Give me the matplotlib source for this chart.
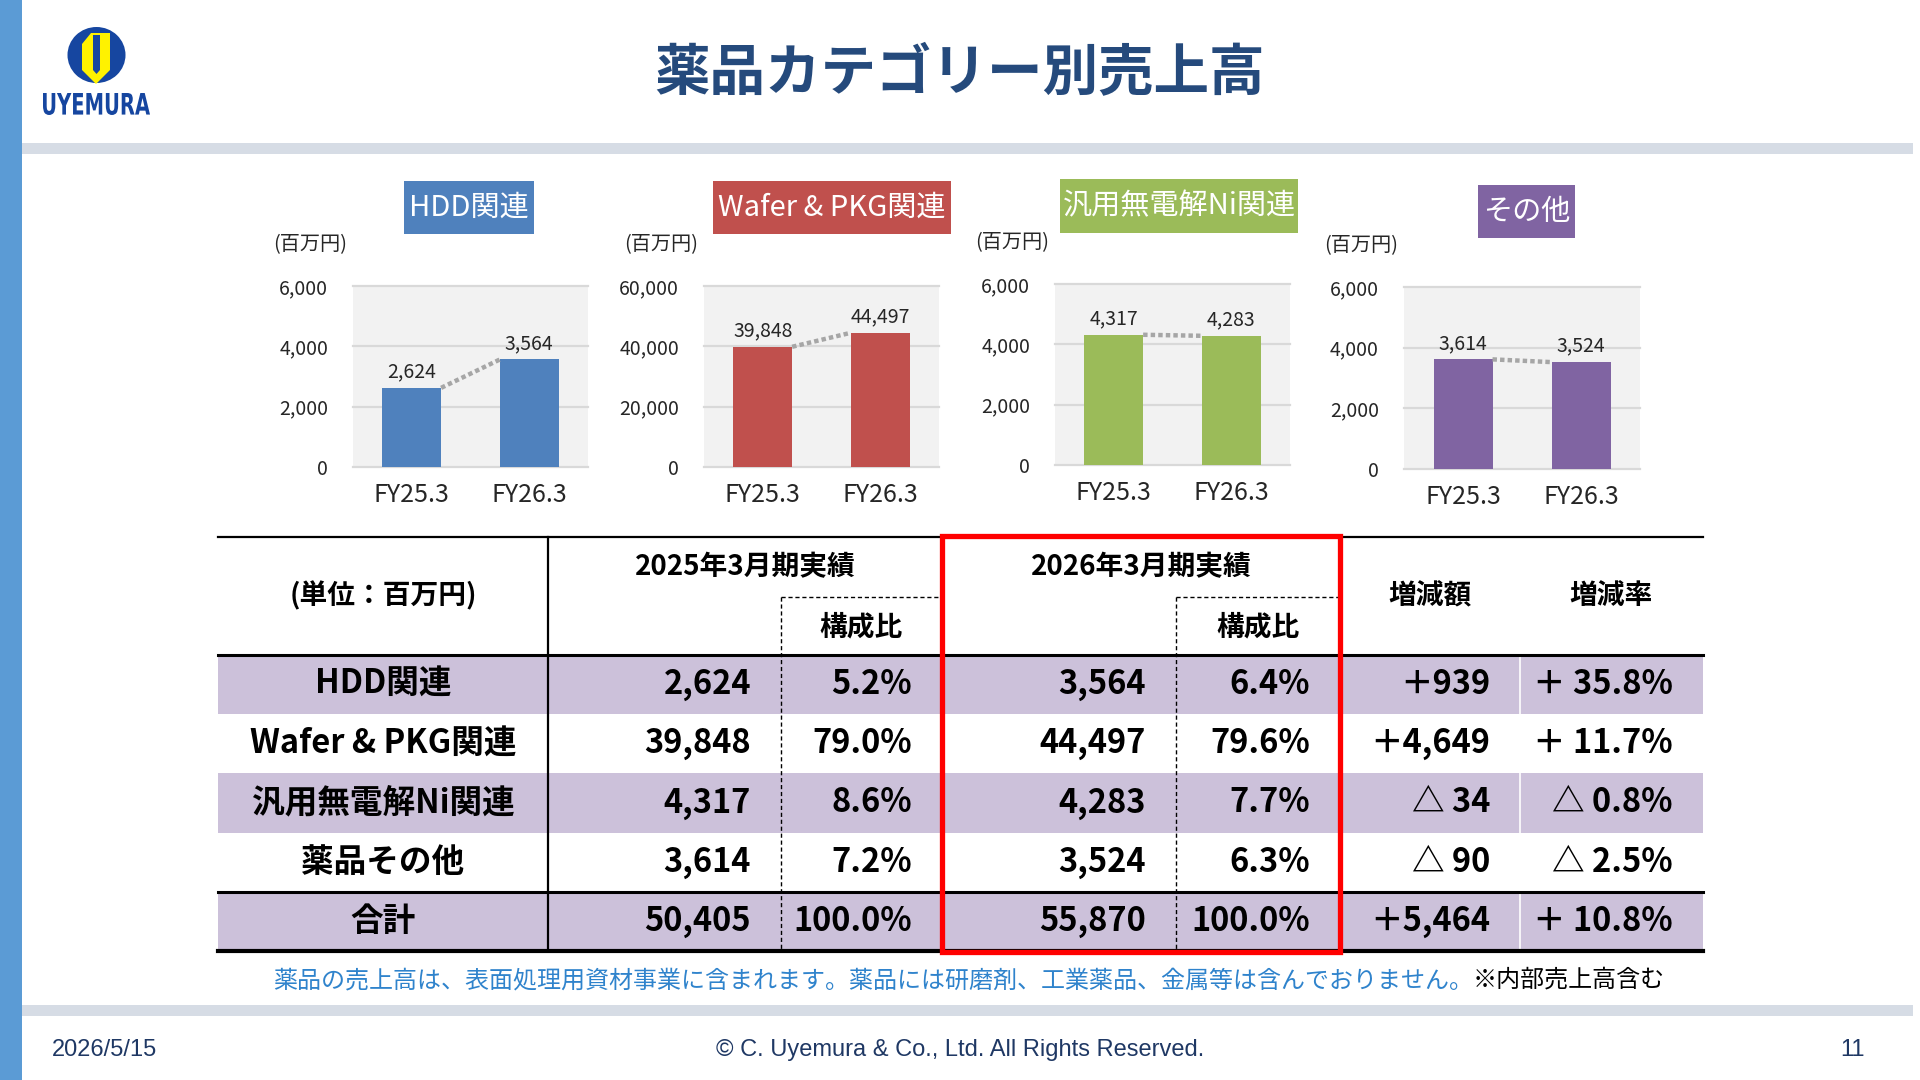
import matplotlib
matplotlib.use('Agg')
import matplotlib.pyplot as plt
from matplotlib.patches import Rectangle, Ellipse, Polygon, PathPatch
from matplotlib.textpath import TextPath
from matplotlib.font_manager import FontProperties
from matplotlib.transforms import Affine2D

plt.rcParams['font.family'] = ['Noto Sans CJK JP', 'DejaVu Sans']

# ---- data ----
categories = ['HDD関連', 'Wafer & PKG関連', '汎用無電解Ni関連', 'その他']
fy_labels = ['FY25.3', 'FY26.3']
sales_fy25 = [2624, 39848, 4317, 3614]
sales_fy26 = [3564, 44497, 4283, 3524]
y_max = [6000, 60000, 6000, 6000]
y_step = [2000, 20000, 2000, 2000]
cat_colors = ['#4F81BD', '#C0504D', '#9BBB59', '#8064A2']

row_labels = ['HDD関連', 'Wafer & PKG関連', '汎用無電解Ni関連', '薬品その他', '合計']
tbl_fy25 = [2624, 39848, 4317, 3614, 50405]
tbl_share25 = [5.2, 79.0, 8.6, 7.2, 100.0]
tbl_fy26 = [3564, 44497, 4283, 3524, 55870]
tbl_share26 = [6.4, 79.6, 7.7, 6.3, 100.0]
tbl_diff = [939, 4649, -34, -90, 5464]
tbl_rate = [35.8, 11.7, -0.8, -2.5, 10.8]

title = '薬品カテゴリー別売上高'
note_blue = '薬品の売上高は、表面処理用資材事業に含まれます。薬品には研磨剤、工業薬品、金属等は含んでおりません。'
note_black = '※内部売上高含む'

W, H = 1920, 1080
fig = plt.figure(figsize=(19.2, 10.8), dpi=100)
fig.patch.set_facecolor('white')

bg = fig.add_axes([0, 0, 1, 1])
bg.set_xlim(0, W)
bg.set_ylim(H, 0)
bg.axis('off')

# frame of the slide
bg.add_patch(Rectangle((0, 0), 22, H, color='#5B9BD5', lw=0))
bg.add_patch(Rectangle((22, 143), 1891, 11, color='#D6DCE5', lw=0))
bg.add_patch(Rectangle((22, 1005), 1891, 11, color='#D6DCE5', lw=0))

# logo
navy = '#1646A0'
bg.add_patch(Ellipse((96.5, 55), 58, 56, color=navy, lw=0))
bg.add_patch(Polygon([(82, 44), (91, 33), (110, 33), (110, 70), (96, 84), (82, 70)],
                     closed=True, color='#FFF200', lw=0))
bg.add_patch(Polygon([(93, 35), (100, 35), (100, 70), (96.5, 74), (93, 70)],
                     closed=True, color=navy, lw=0))
tp = TextPath((0, 0), 'UYEMURA', size=10, prop=FontProperties(family='DejaVu Sans', weight='bold'))
bb = tp.get_extents()
sx = 107 / bb.width
sy = 22 / bb.height
tr = Affine2D().translate(-bb.x0, -bb.y0).scale(sx, -sy).translate(43, 115)
bg.add_patch(PathPatch(tr.transform_path(tp), color=navy, lw=0))

# title
bg.text(960, 74, title, ha='center', va='center', fontsize=40, fontweight='bold',
        color='#254A7C')

# ---- mini bar charts ----
chart_boxes = [(353, 286, 235, 181), (704, 286, 235, 181),
               (1055, 284, 235, 181), (1404, 287, 236, 182)]
label_boxes = [(404, 181, 534, 234), (713, 181, 951, 234),
               (1060, 179, 1298, 233), (1478, 185, 1575, 238)]

for i in range(4):
    x0, y0, w, h = chart_boxes[i]
    ax = fig.add_axes([x0 / W, 1 - (y0 + h) / H, w / W, h / H])
    ax.set_facecolor('#F2F2F2')
    for s in ax.spines.values():
        s.set_visible(False)
    vals = [sales_fy25[i], sales_fy26[i]]
    ax.set_xlim(-0.5, 1.5)
    ax.set_ylim(0, y_max[i])
    ticks = list(range(0, y_max[i] + 1, y_step[i]))
    for t in ticks:
        ax.axhline(t, color='#D9D9D9', lw=1.6, clip_on=False, zorder=1)
    ax.bar([0, 1], vals, width=0.5, color=cat_colors[i], zorder=2)
    ax.plot([0.25, 0.75], vals, color='#A6A6A6', lw=3.2,
            linestyle=(0, (1, 0.7)), zorder=3)
    for xi, v in enumerate(vals):
        ax.annotate(f'{v:,}', (xi, v), xytext=(0, 4), textcoords='offset points',
                    ha='center', va='bottom', fontsize=14, color='#262626')
    ax.set_yticks(ticks)
    ax.set_yticklabels([f'{t:,}' for t in ticks], fontsize=14, color='#262626')
    ax.set_xticks([0, 1])
    ax.set_xticklabels(fy_labels, fontsize=18, color='#262626')
    ax.tick_params(axis='y', length=0, pad=18)
    ax.tick_params(axis='x', length=0, pad=11)

    bg.text(x0 - 43, y0 - 41, '(百万円)', ha='center', va='center',
            fontsize=14.5, color='#262626')

    lx0, ly0, lx1, ly1 = label_boxes[i]
    bg.add_patch(Rectangle((lx0, ly0), lx1 - lx0, ly1 - ly0, color=cat_colors[i], lw=0))
    bg.text((lx0 + lx1) / 2, (ly0 + ly1) / 2, categories[i], ha='center', va='center',
            fontsize=21, color='white')

# ---- table ----
tl, tr_ = 218, 1703
t_top, h_bot = 537, 655
row_h = 59.2
col_lbl = 548
col_d1 = 781
col_g2 = 942
col_d2 = 1176
col_g3 = 1340
col_s = 1520
t_bot = h_bot + row_h * len(row_labels)

for r in range(len(row_labels)):
    if r % 2 == 0:
        bg.add_patch(Rectangle((tl, h_bot + r * row_h), tr_ - tl, row_h,
                               color='#CCC1DA', lw=0, zorder=0))

bg.plot([col_s, col_s], [h_bot, t_bot], color='white', lw=1.2, zorder=1)
bg.plot([tl, tr_], [t_top, t_top], color='black', lw=1.6, zorder=2)
bg.plot([tl, tr_], [h_bot, h_bot], color='black', lw=2.2, zorder=2)
bg.plot([tl, tr_], [h_bot + 4 * row_h, h_bot + 4 * row_h], color='black', lw=2.2, zorder=2)
bg.plot([tl, tr_], [t_bot, t_bot], color='black', lw=3.0, zorder=2)
bg.plot([col_lbl, col_lbl], [t_top, t_bot], color='black', lw=1.6, zorder=2)

dash = (0, (3, 2))
y_sub = 597
for xa, xb in [(col_d1, col_g2), (col_d2, col_g3)]:
    bg.plot([xa, xb], [y_sub, y_sub], color='black', lw=1.0, linestyle=dash, zorder=2)
    bg.plot([xa, xa], [y_sub, t_bot], color='black', lw=1.0, linestyle=dash, zorder=2)

bg.add_patch(Rectangle((col_g2, 536), col_g3 - col_g2, t_bot - 536 + 1,
                       fill=False, edgecolor='#FF0000', lw=3.8, zorder=4))

hfs = 20
bg.text((tl + col_lbl) / 2, 596, '(単位：百万円)', ha='center', va='center',
        fontsize=hfs, fontweight='bold')
bg.text((col_lbl + col_g2) / 2, 567, '2025年3月期実績', ha='center', va='center',
        fontsize=hfs, fontweight='bold')
bg.text((col_d1 + col_g2) / 2, 627, '構成比', ha='center', va='center',
        fontsize=hfs, fontweight='bold')
bg.text((col_g2 + col_g3) / 2, 567, '2026年3月期実績', ha='center', va='center',
        fontsize=hfs, fontweight='bold')
bg.text((col_d2 + col_g3) / 2, 627, '構成比', ha='center', va='center',
        fontsize=hfs, fontweight='bold')
bg.text((col_g3 + col_s) / 2, 596, '増減額', ha='center', va='center',
        fontsize=hfs, fontweight='bold')
bg.text((col_s + tr_) / 2, 596, '増減率', ha='center', va='center',
        fontsize=hfs, fontweight='bold')


def fmt_diff(v):
    return f'＋{v:,}' if v >= 0 else f'△ {abs(v):,}'


def fmt_rate(v):
    return f'＋ {v:.1f}%' if v >= 0 else f'△ {abs(v):.1f}%'


dfs = 23.5
pad = 30
for r in range(len(row_labels)):
    yc = h_bot + (r + 0.5) * row_h
    bg.text((tl + col_lbl) / 2, yc, row_labels[r], ha='center', va='center',
            fontsize=dfs, fontweight='bold')
    cells = [(col_d1, f'{tbl_fy25[r]:,}'), (col_g2, f'{tbl_share25[r]:.1f}%'),
             (col_d2, f'{tbl_fy26[r]:,}'), (col_g3, f'{tbl_share26[r]:.1f}%'),
             (col_s, fmt_diff(tbl_diff[r])), (tr_, fmt_rate(tbl_rate[r]))]
    for xr, s in cells:
        bg.text(xr - pad, yc, s, ha='right', va='center', fontsize=dfs,
                fontweight='bold')

# note
t1 = bg.text(273, 980, note_blue, ha='left', va='center', fontsize=17.3, color='#2F83CC')
fig.canvas.draw()
ext = t1.get_window_extent()
bg.text(ext.x1, 980, note_black, ha='left', va='center', fontsize=17.3, color='black')

# footer
fcol = '#1F3864'
bg.text(52, 1050, '2026/5/15', ha='left', va='center', fontsize=17,
        family='Liberation Sans', color=fcol)
bg.text(960, 1050, '© C. Uyemura & Co., Ltd. All Rights Reserved.', ha='center', va='center',
        fontsize=17, family='Liberation Sans', color=fcol)
bg.text(1865, 1050, '11', ha='right', va='center', fontsize=17,
        family='Liberation Sans', color=fcol)

fig.savefig('out.png', dpi=100)
